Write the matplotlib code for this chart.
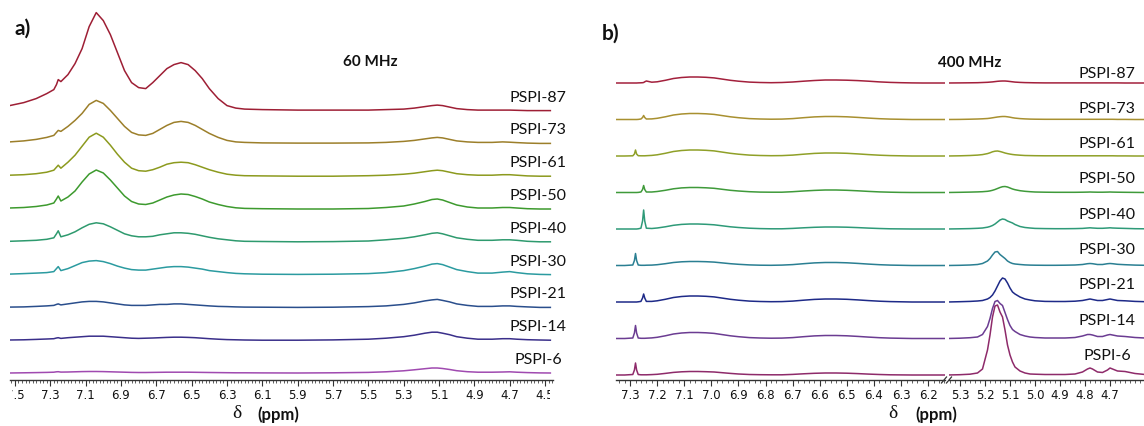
import matplotlib
matplotlib.use('Agg')
import matplotlib.pyplot as plt
from matplotlib.ticker import MultipleLocator
from matplotlib.transforms import Bbox, TransformedBbox
from matplotlib.lines import Line2D

W, H = 1144, 426

SAMPLES = ['PSPI-6', 'PSPI-14', 'PSPI-21', 'PSPI-30', 'PSPI-40',
           'PSPI-50', 'PSPI-61', 'PSPI-73', 'PSPI-87']

# ---- a) 60 MHz spectra (chemical shift in ppm, intensity read off the picture)
A_PPM = [7.53, 7.45, 7.38, 7.32, 7.28, 7.265, 7.255, 7.24, 7.20, 7.16,
         7.12, 7.08, 7.04, 7.00, 6.96, 6.92, 6.88, 6.84, 6.80, 6.76,
         6.72, 6.68, 6.64, 6.60, 6.56, 6.52, 6.48, 6.44, 6.40, 6.35,
         6.30, 6.25, 6.20, 6.10, 5.90, 5.70, 5.50, 5.40, 5.30, 5.24,
         5.18, 5.14, 5.11, 5.08, 5.04, 5.00, 4.94, 4.88, 4.80, 4.74,
         4.70, 4.66, 4.60, 4.53, 4.47]

A_PSPI87 = [5, 8, 12, 17, 21, 26, 31, 29, 36, 47, 62, 84, 98, 90, 76, 58, 40,
            28, 23, 22, 28, 35, 42, 46, 48, 46, 40, 32, 22, 12, 5, 2.5, 1.5,
            1, 0.5, 0.5, 0.5, 1, 1.5, 2.5, 4, 5, 5.5, 5, 3.5, 2, 1, 0.5, 0.5,
            0.5, 0.5, 0.3, 0, 0, 0]
A_PSPI73 = [1.5, 2.5, 4, 6, 8, 11, 13, 12, 17, 23, 30, 39, 43, 40, 33, 25,
            17, 11, 8.5, 8, 10, 14, 18, 21, 22, 21, 18, 14, 10, 6, 3, 1.5, 1,
            0.5, 0.3, 0.3, 0.5, 1, 2, 3, 4.5, 5.5, 6, 5.5, 4, 2.5, 1.5, 1, 1,
            1.5, 1.2, 0.8, 0.3, 0, 0]
A_PSPI61 = [1, 1.5, 2.5, 4, 6, 9, 11, 8, 14, 21, 30, 39, 43, 39, 31, 22, 14,
            8, 5.5, 5, 6.5, 9, 12, 13.5, 14, 13.5, 11.5, 9, 6.5, 4, 2, 1, 0.5,
            0.3, 0, 0, 0.5, 1, 2, 3, 4.5, 5.5, 6, 5.5, 4, 2.5, 1.5, 1, 1, 1.5,
            1.5, 1, 0.3, 0, 0]
A_PSPI50 = [1, 1.5, 2.5, 4, 6, 10, 13, 8, 12, 18, 27, 35, 39, 36, 29, 21, 13,
            7.5, 5, 4.5, 6, 9, 12, 14, 15, 14.5, 12.5, 10, 7, 4.5, 2.5, 1.2,
            0.6, 0.3, 0, 0, 0.5, 1.5, 3, 5, 7.5, 9.5, 10, 9, 6.5, 4, 2, 1, 1,
            1.5, 1.5, 1, 0.3, 0, 0]
A_PSPI40 = [0.5, 1, 1.5, 2.5, 4, 8, 11, 5, 7, 10, 14, 17.5, 19, 18, 15, 11.5,
            8, 6, 5, 5, 5.5, 7, 8, 9, 9, 8.5, 7.5, 6, 4.5, 3, 2, 1, 0.5, 0.3,
            0, 0.2, 0.8, 2, 3.5, 5, 7, 8.5, 9, 8, 6, 4, 2.5, 1.5, 1.5, 2, 2,
            1.5, 0.5, 0, 0]
A_PSPI30 = [0.5, 1, 1.5, 2, 3, 6, 8, 4, 6, 9, 12, 13.5, 14, 13, 11, 8.5, 6.5,
            5, 4.5, 4.5, 5.5, 6.5, 7.5, 8, 8, 7.5, 6.5, 5.5, 4, 3, 2, 1.2,
            0.8, 0.4, 0.2, 0.4, 1, 2, 4, 6, 8.5, 10.5, 11, 10, 7.5, 5, 3, 1.5,
            1.5, 2.5, 3, 2, 0.8, 0.2, 0]
A_PSPI21 = [0.3, 0.5, 1, 1.5, 2, 3, 3.5, 2.5, 3.5, 4.5, 5.5, 6, 6, 5.5, 4.5,
            3.5, 2.5, 2, 2, 2, 2.5, 3, 3, 3.5, 3.5, 3, 2.5, 2, 1.5, 1, 0.8,
            0.5, 0.3, 0.2, 0, 0.2, 0.8, 1.5, 3, 4.5, 6.5, 7.5, 8, 7, 5.5, 3.5,
            2, 1, 1, 1.5, 1.5, 1, 0.5, 0, 0]
A_PSPI14 = [0.2, 0.4, 0.8, 1.2, 1.5, 2.2, 2.5, 1.8, 2.5, 3, 3.5, 4, 4, 4, 3.5,
            3, 2.5, 2, 1.8, 2, 2.2, 2.5, 2.8, 3, 3, 2.8, 2.5, 2, 1.5, 1, 0.6,
            0.4, 0.2, 0, 0, 0.3, 1, 2, 3.5, 5, 7, 8, 8, 7, 5.5, 3.5, 2, 1, 1,
            1.5, 1.5, 1, 0.5, 0.2, 0]
A_PSPI6 = [0, 0.2, 0.4, 0.6, 0.8, 1.2, 1.3, 0.9, 1, 1.2, 1.4, 1.5, 1.5, 1.4,
           1.2, 1, 0.8, 0.6, 0.5, 0.5, 0.6, 0.7, 0.8, 0.8, 0.8, 0.8, 0.7, 0.6,
           0.5, 0.4, 0.3, 0.2, 0.2, 0.1, 0, 0.2, 0.6, 1.2, 2.2, 3.2, 4.3, 5, 5,
           4.5, 3.5, 2.3, 1.3, 0.8, 0.8, 1, 1.2, 0.8, 0.4, 0.1, 0]

A_SPECTRA = [A_PSPI6, A_PSPI14, A_PSPI21, A_PSPI30, A_PSPI40,
             A_PSPI50, A_PSPI61, A_PSPI73, A_PSPI87]

# ---- b) 400 MHz spectra, broken axis: left window and right window
B_LEFT_PPM = [7.36, 7.32, 7.29, 7.284, 7.280, 7.276, 7.27, 7.26, 7.254,
              7.250, 7.246, 7.24, 7.22, 7.20, 7.17, 7.14, 7.11, 7.08, 7.05,
              7.02, 6.99, 6.96, 6.93, 6.90, 6.86, 6.82, 6.78, 6.74, 6.70,
              6.66, 6.62, 6.58, 6.54, 6.50, 6.46, 6.42, 6.38, 6.34, 6.30,
              6.26, 6.22, 6.18, 6.14]
B_RIGHT_PPM = [5.35, 5.30, 5.26, 5.23, 5.21, 5.19, 5.18, 5.17, 5.16, 5.15,
               5.14, 5.13, 5.12, 5.11, 5.10, 5.09, 5.08, 5.06, 5.04, 5.02,
               5.00, 4.96, 4.92, 4.88, 4.84, 4.81, 4.79, 4.78, 4.77, 4.75,
               4.73, 4.71, 4.70, 4.69, 4.67, 4.64, 4.60, 4.56]

B_PSPI87_L = [0, 0, 0, 0, 0, 0, 0.1, 0.2, 0.3, 0.5, 1.2, 2.0, 0.8, 1.2, 2.7,
              4.5, 5.5, 6.0, 6.0, 5.7, 5.1, 3.9, 2.7, 1.8, 0.9, 0.5, 0.3, 0.5,
              1.0, 1.8, 2.5, 3.0, 3.0, 2.8, 2.4, 1.8, 1.1, 0.6, 0.3, 0.1, 0, 0,
              0]
B_PSPI73_L = [0, 0, 0, 0, 0, 0, 0.1, 0.5, 2.0, 4.0, 2.0, 0.5, 0.6, 1.2, 2.7,
              4.5, 5.5, 6.0, 6.0, 5.7, 5.1, 3.9, 2.7, 1.8, 0.9, 0.5, 0.3, 0.4,
              0.9, 1.8, 2.6, 3.0, 3.0, 2.7, 2.1, 1.4, 0.8, 0.4, 0.2, 0, 0, 0,
              0]
B_PSPI61_L = [0, 0, 0.2, 2.0, 6.0, 2.0, 0.3, 0.2, 0.2, 0.2, 0.2, 0.3, 0.6,
              1.2, 2.7, 4.5, 5.5, 6.0, 6.0, 5.7, 5.1, 3.9, 2.7, 1.8, 0.9, 0.5,
              0.3, 0.4, 0.9, 1.8, 2.6, 3.0, 3.0, 2.7, 2.1, 1.4, 0.8, 0.4, 0.2,
              0, 0, 0, 0]
B_PSPI50_L = [0, 0, 0, 0, 0, 0, 0.1, 0.5, 3.0, 7.0, 3.0, 0.5, 0.5, 1.0, 2.2,
              3.7, 4.6, 5.0, 5.0, 4.7, 4.2, 3.2, 2.2, 1.5, 0.8, 0.4, 0.3, 0.3,
              0.8, 1.5, 2.1, 2.5, 2.5, 2.2, 1.7, 1.1, 0.6, 0.3, 0.1, 0, 0, 0,
              0]
B_PSPI40_L = [0, 0, 0, 0, 0, 0, 0.2, 0.8, 8.0, 19.0, 8.0, 0.8, 0.5, 1.0, 2.2,
              3.7, 4.6, 5.0, 5.0, 4.7, 4.2, 3.2, 2.2, 1.5, 0.8, 0.4, 0.2, 0.2,
              0.6, 1.2, 1.7, 2.0, 2.0, 1.8, 1.4, 0.9, 0.5, 0.2, 0.1, 0, 0, 0,
              0]
B_PSPI30_L = [0, 0, 0.5, 5.0, 12.0, 5.0, 0.5, 0.2, 0.2, 0.2, 0.2, 0.3, 0.4,
              0.8, 1.8, 3.0, 3.7, 4.0, 4.0, 3.8, 3.4, 2.6, 1.8, 1.2, 0.6, 0.3,
              0.2, 0.4, 0.9, 1.8, 2.6, 3.0, 3.0, 2.7, 2.1, 1.4, 0.8, 0.4, 0.2,
              0, 0, 0, 0]
B_PSPI21_L = [0, 0, 0, 0, 0, 0, 0.2, 0.6, 4.0, 8.0, 4.0, 0.6, 0.6, 1.2, 2.7,
              4.5, 5.5, 6.0, 6.0, 5.7, 5.1, 3.9, 2.7, 1.8, 0.9, 0.5, 0.3, 0.4,
              0.9, 1.8, 2.6, 3.0, 3.0, 2.7, 2.1, 1.4, 0.8, 0.4, 0.2, 0, 0, 0,
              0]
B_PSPI14_L = [0, 0, 0.5, 5.5, 13.0, 5.5, 0.5, 0.2, 0.2, 0.2, 0.2, 0.3, 0.6,
              1.2, 2.7, 4.5, 5.5, 6.0, 6.0, 5.7, 5.1, 3.9, 2.7, 1.8, 0.9, 0.5,
              0.3, 0.4, 0.9, 1.8, 2.6, 3.0, 3.0, 2.7, 2.1, 1.4, 0.8, 0.4, 0.2,
              0, 0, 0, 0]
B_PSPI6_L = [0, 0, 0.5, 5.0, 12.0, 5.0, 0.5, 0.2, 0.2, 0.2, 0.2, 0.2, 0.4,
             0.7, 1.6, 2.6, 3.2, 3.5, 3.5, 3.3, 3.0, 2.3, 1.6, 1.0, 0.5, 0.3,
             0.2, 0.2, 0.6, 1.2, 1.7, 2.0, 2.0, 1.8, 1.4, 0.9, 0.5, 0.2, 0.1,
             0, 0, 0, 0]

B_PSPI87_R = [0, 0.1, 0.2, 0.3, 0.5, 0.7, 0.9, 1.1, 1.4, 1.7, 1.9, 2.0, 2.0,
              1.8, 1.5, 1.2, 0.9, 0.6, 0.4, 0.3, 0.2, 0.1, 0.1, 0.1, 0.1, 0.1,
              0.1, 0.1, 0.1, 0.1, 0.1, 0.1, 0.1, 0.1, 0.1, 0, 0, 0]
B_PSPI73_R = [0, 0.1, 0.3, 0.5, 0.7, 1.0, 1.3, 1.7, 2.1, 2.5, 2.8, 3.0, 3.0,
              2.7, 2.3, 1.8, 1.4, 0.9, 0.6, 0.4, 0.3, 0.2, 0.2, 0.2, 0.2, 0.2,
              0.2, 0.2, 0.2, 0.2, 0.2, 0.2, 0.2, 0.2, 0.1, 0.1, 0, 0]
B_PSPI61_R = [0, 0.2, 0.5, 0.9, 1.4, 2.4, 3.2, 4.2, 4.8, 5.0, 4.5, 3.8, 3.0,
              2.4, 1.9, 1.5, 1.2, 0.8, 0.5, 0.4, 0.3, 0.2, 0.2, 0.2, 0.2, 0.2,
              0.2, 0.2, 0.2, 0.2, 0.2, 0.2, 0.2, 0.2, 0.1, 0.1, 0, 0]
B_PSPI50_R = [0, 0.2, 0.4, 0.6, 0.8, 1.2, 1.6, 2.2, 3.0, 4.0, 5.0, 5.8, 6.0,
              5.5, 4.5, 3.5, 2.8, 1.8, 1.2, 0.8, 0.5, 0.3, 0.2, 0.2, 0.2, 0.3,
              0.4, 0.5, 0.4, 0.3, 0.3, 0.4, 0.5, 0.4, 0.3, 0.2, 0.1, 0]
B_PSPI40_R = [0, 0.2, 0.4, 0.7, 1.0, 1.8, 2.5, 3.5, 5.0, 7.0, 9.0, 10.0, 9.5,
              8.0, 7.0, 6.0, 4.5, 2.5, 1.5, 1.0, 0.6, 0.4, 0.3, 0.3, 0.4, 0.6,
              1.0, 1.2, 1.0, 0.7, 0.7, 1.0, 1.2, 1.0, 0.8, 0.6, 0.3, 0.2]
B_PSPI30_R = [0, 0.2, 0.5, 1.0, 2.0, 4.5, 7.0, 10.5, 13.5, 14.0, 11.0, 9.0,
              7.0, 4.5, 3.0, 2.0, 1.5, 1.0, 0.6, 0.4, 0.3, 0.2, 0.2, 0.3, 0.5,
              1.0, 1.8, 2.0, 1.8, 1.0, 1.0, 1.8, 2.0, 1.8, 1.2, 0.8, 0.4, 0.2]
B_PSPI21_R = [0, 0.3, 0.6, 1.0, 1.5, 3.0, 4.5, 7.0, 11.0, 16.0, 21.0, 24.0,
              23.0, 19.0, 14.0, 10.0, 8.0, 5.0, 3.0, 2.0, 1.2, 0.6, 0.5, 0.5,
              0.8, 1.5, 2.5, 3.0, 2.5, 1.5, 1.5, 2.5, 3.0, 2.5, 1.5, 1.2, 0.6,
              0.3]
B_PSPI14_R = [0, 0.3, 0.8, 1.5, 4.0, 12.0, 20.0, 30.0, 37.0, 38.0, 35.0,
              33.0, 26.0, 19.0, 13.0, 9.0, 7.0, 4.0, 2.5, 1.5, 1.0, 0.5, 0.5,
              0.5, 1.0, 2.5, 4.0, 4.0, 3.5, 2.0, 2.0, 3.5, 4.0, 3.5, 2.5, 2.0,
              1.0, 0.5]
B_PSPI6_R = [0, 0.3, 0.8, 2.0, 6.0, 25.0, 40.0, 58.0, 69.0, 70.0, 63.0, 58.0,
             45.0, 30.0, 20.0, 13.0, 8.0, 4.0, 2.0, 1.0, 0.8, 0.5, 0.5, 0.5,
             1.0, 3.0, 6.0, 7.0, 6.0, 3.0, 2.5, 5.0, 7.0, 6.0, 4.0, 3.5, 1.5,
             0.5]

B_SPECTRA_L = [B_PSPI6_L, B_PSPI14_L, B_PSPI21_L, B_PSPI30_L, B_PSPI40_L,
               B_PSPI50_L, B_PSPI61_L, B_PSPI73_L, B_PSPI87_L]
B_SPECTRA_R = [B_PSPI6_R, B_PSPI14_R, B_PSPI21_R, B_PSPI30_R, B_PSPI40_R,
               B_PSPI50_R, B_PSPI61_R, B_PSPI73_R, B_PSPI87_R]

A_TICKS = [7.5, 7.3, 7.1, 6.9, 6.7, 6.5, 6.3, 6.1, 5.9, 5.7, 5.5, 5.3, 5.1,
           4.9, 4.7, 4.5]
B_LEFT_TICKS = [7.3, 7.2, 7.1, 7.0, 6.9, 6.8, 6.7, 6.6, 6.5, 6.4, 6.3, 6.2]
B_RIGHT_TICKS = [5.3, 5.2, 5.1, 5.0, 4.9, 4.8, 4.7]

A_COLORS = ['#a04ab0', '#3a2f8a', '#2a4e8c', '#2b9ba0', '#2e9a6e',
            '#3d9a2e', '#8c9a1e', '#9c7f2a', '#9e1f35']
B_COLORS = ['#8e2a6a', '#6b3c92', '#1e2a88', '#2a7f92', '#2e9a78',
            '#3f9a3a', '#8fa028', '#a89030', '#a3203c']

AX_BOTTOM = 380  # axis line, px from the top of the figure
LABEL_FONT = 'Lato'

fig = plt.figure(figsize=(W / 100, H / 100), dpi=100)


def fig_xy(x_px, y_px):
    return x_px / W, 1 - y_px / H


def make_axes(x0, x1, xlim, ticks):
    ax = fig.add_axes([x0 / W, (H - AX_BOTTOM) / H, (x1 - x0) / W,
                       AX_BOTTOM / H])
    ax.set_xlim(*xlim)
    ax.set_ylim(0, AX_BOTTOM)
    ax.patch.set_visible(False)
    for side in ['top', 'left', 'right']:
        ax.spines[side].set_visible(False)
    ax.spines['bottom'].set_linewidth(1.0)
    ax.spines['bottom'].set_color('#333333')
    ax.set_yticks([])
    ax.set_xticks(ticks)
    ax.set_xticklabels(['%.1f' % t for t in ticks])
    ax.xaxis.set_minor_locator(MultipleLocator(0.02))
    ax.tick_params(axis='x', which='major', length=4, width=0.8, pad=2.5,
                   labelsize=8.5, labelcolor='#111111', color='#333333')
    ax.tick_params(axis='x', which='minor', length=2, width=0.6,
                   color='#444444')
    return ax


# ---------------- panel a
ax_a = make_axes(10, 553, (7.528, 4.455), A_TICKS)
clip = TransformedBbox(Bbox([[12 / W, 0], [550 / W, 1]]), fig.transFigure)
for lab in ax_a.get_xticklabels():
    lab.set_clip_box(clip)
    lab.set_clip_on(True)

for i, (name, ys) in enumerate(zip(SAMPLES, A_SPECTRA)):
    base = 7 + i * 32.8
    ax_a.plot(A_PPM, [base + v for v in ys], color=A_COLORS[i], lw=1.1,
              solid_joinstyle='round', clip_on=True)
    fx, fy = fig_xy(538, AX_BOTTOM - base - 13)
    fig.text(fx, fy, name, ha='center', va='center', fontsize=11.5,
             family=LABEL_FONT, color='#111111')

# ---------------- panel b (broken axis)
ax_bl = make_axes(616, 945, (7.352, 6.138), B_LEFT_TICKS)
ax_br = make_axes(949, 1144, (5.344, 4.564), B_RIGHT_TICKS)

for i, name in enumerate(SAMPLES):
    base = 5 + i * 36.5
    ax_bl.plot(B_LEFT_PPM, [base + v for v in B_SPECTRA_L[i]],
               color=B_COLORS[i], lw=1.1, solid_joinstyle='round')
    ax_br.plot(B_RIGHT_PPM, [base + v for v in B_SPECTRA_R[i]],
               color=B_COLORS[i], lw=1.1, solid_joinstyle='round')
    fx, fy = fig_xy(1107, AX_BOTTOM - base - (19 - 1.2 * i))
    fig.text(fx, fy, name, ha='center', va='center', fontsize=11.5,
             family=LABEL_FONT, color='#111111')

# break marks on the axis line
for xb in (944, 949):
    x0, y0 = fig_xy(xb - 2.5, AX_BOTTOM + 3)
    x1, y1 = fig_xy(xb + 2.5, AX_BOTTOM - 3)
    fig.add_artist(Line2D([x0, x1], [y0, y1], transform=fig.transFigure,
                          color='#333333', lw=0.9))

# ---------------- titles and axis labels
for x, y, s in [(23, 29, 'a)'), (611, 34, 'b)')]:
    fx, fy = fig_xy(x, y)
    fig.text(fx, fy, s, ha='center', va='center', fontsize=15,
             fontweight='bold', family=LABEL_FONT, color='#111111')

for x, y, s in [(370, 62, '60 MHz'), (970, 63, '400 MHz')]:
    fx, fy = fig_xy(x, y)
    fig.text(fx, fy, s, ha='center', va='center', fontsize=11,
             fontweight='bold', family=LABEL_FONT, color='#111111')

for xd, xp in [(237, 257), (893, 915)]:
    fx, fy = fig_xy(xd, 413)
    fig.text(fx, fy, 'δ', ha='center', va='center', fontsize=14,
             family='Liberation Serif', color='#111111')
    fx, fy = fig_xy(xp, 415)
    fig.text(fx, fy, '(ppm)', ha='left', va='center', fontsize=12,
             fontweight='bold', family=LABEL_FONT, color='#111111')

fig.savefig('out.png', dpi=100)
